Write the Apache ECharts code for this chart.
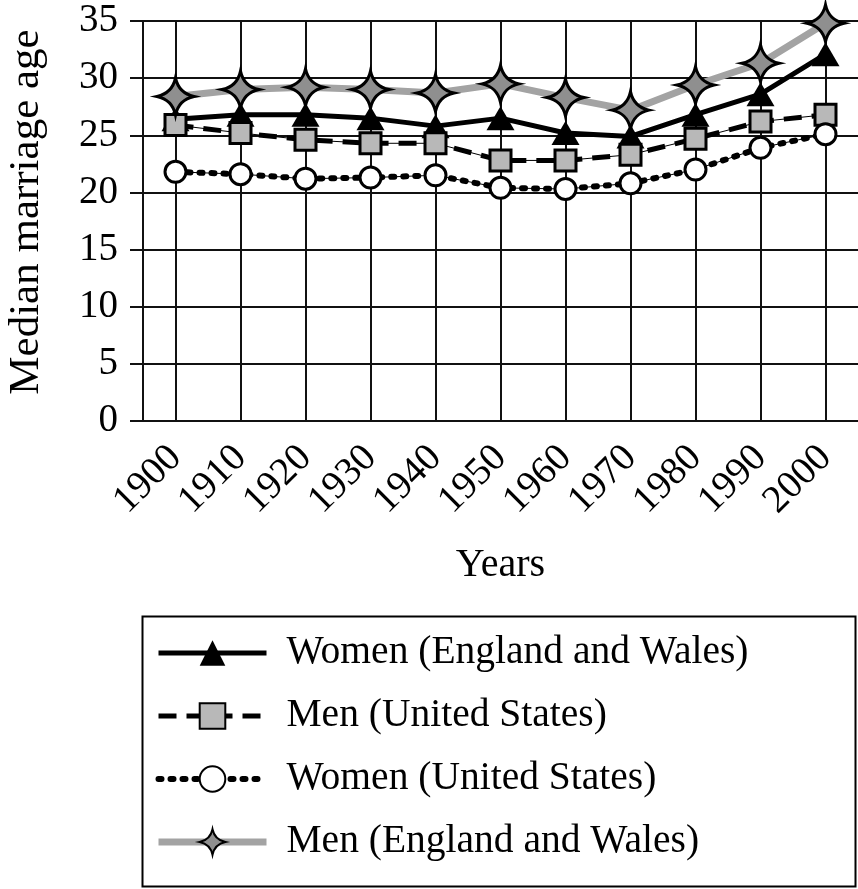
<!DOCTYPE html>
<html>
<head>
<meta charset="utf-8">
<script src="https://cdn.jsdelivr.net/npm/echarts@6/dist/echarts.min.js"></script>
<style>
html, body { margin: 0; padding: 0; background: #fff; }
#chart { width: 858px; height: 889px; }
</style>
</head>
<body>
<div id="chart"></div>
<script>
// data
const years = ['1900', '1910', '1920', '1930', '1940', '1950', '1960', '1970', '1980', '1990', '2000']
const womenEW = [26.4, 26.8, 26.8, 26.5, 25.8, 26.5, 25.2, 24.9, 26.8, 28.6, 32.1]
const menUS = [25.9, 25.2, 24.6, 24.3, 24.3, 22.8, 22.8, 23.3, 24.7, 26.2, 26.8]
const womenUS = [21.8, 21.6, 21.2, 21.3, 21.5, 20.4, 20.3, 20.8, 22.0, 23.9, 25.1]
const menEW = [28.4, 29.0, 29.2, 29.0, 28.7, 29.5, 28.3, 27.2, 29.4, 31.3, 34.8]
const yTicks = [0, 5, 10, 15, 20, 25, 30, 35]

const font = 'Liberation Serif'
// four pointed star with curved sides
const star = 'path://M0,-20 Q3.5,-3.5 20,0 Q3.5,3.5 0,20 Q-3.5,3.5 -20,0 Q-3.5,-3.5 0,-20 Z'

const myChart = echarts.init(document.getElementById('chart'))
myChart.setOption({
  animation: false,
  backgroundColor: '#fff',
  textStyle: { fontFamily: font, color: '#000' },
  grid: { left: 143, right: 0, top: 21, height: 400, outerBoundsMode: 'none' },
  legend: {
    orient: 'vertical',
    left: 155,
    top: 632,
    padding: 0,
    itemWidth: 108,
    itemHeight: 32,
    itemGap: 21,
    lineStyle: { width: 'inherit' },
    data: ['Women (England and Wales)', 'Men (United States)', 'Women (United States)', 'Men (England and Wales)'],
    textStyle: { fontFamily: font, fontSize: 39.5, color: '#000', lineHeight: 42, padding: [0, 0, 0, 15] },
  },
  graphic: [{
    type: 'rect',
    left: 140,
    top: 614,
    shape: { width: 713, height: 270 },
    style: { fill: 'none', stroke: '#000', lineWidth: 2 },
  }],
  xAxis: {
    type: 'category',
    data: years,
    boundaryGap: true,
    name: 'Years',
    nameLocation: 'middle',
    nameGap: 124,
    nameTextStyle: { fontFamily: font, fontSize: 40, color: '#000' },
    axisLine: { lineStyle: { color: '#111', width: 2 } },
    axisTick: { show: false },
    axisLabel: { rotate: 45, margin: 31, fontFamily: font, fontSize: 39, color: '#000', interval: 0 },
    splitLine: { show: true, alignWithLabel: true, lineStyle: { color: '#111', width: 2 } },
  },
  yAxis: {
    type: 'value',
    min: yTicks[0],
    max: yTicks[yTicks.length - 1],
    interval: 5,
    name: 'Median marriage age',
    nameLocation: 'middle',
    nameGap: 95,
    nameTextStyle: { fontFamily: font, fontSize: 43, color: '#000', padding: [0, 0, 0, 18] },
    axisLine: { show: true, lineStyle: { color: '#111', width: 2 } },
    axisTick: { show: true, inside: false, length: 13, lineStyle: { color: '#111', width: 2 } },
    axisLabel: { margin: 25, fontFamily: font, fontSize: 39, color: '#000' },
    splitLine: { show: true, lineStyle: { color: '#111', width: 2 } },
  },
  series: [
    {
      name: 'Women (England and Wales)',
      type: 'line',
      data: womenEW,
      symbol: 'triangle',
      symbolSize: [28, 24],
      itemStyle: { color: '#000' },
      lineStyle: { color: '#000', width: 5 },
      z: 2,
    },
    {
      // thin connector under the dashes
      type: 'line',
      data: menUS,
      symbol: 'none',
      silent: true,
      lineStyle: { color: '#000', width: 1 },
      z: 2,
    },
    {
      name: 'Men (United States)',
      type: 'line',
      data: menUS,
      symbol: 'rect',
      symbolSize: 21,
      itemStyle: { color: '#b8b8b8', borderColor: '#000', borderWidth: 3 },
      lineStyle: { color: '#000', width: 5, type: [18, 10] },
      z: 3,
    },
    {
      type: 'line',
      data: womenUS,
      symbol: 'none',
      silent: true,
      lineStyle: { color: '#000', width: 1 },
      z: 3,
    },
    {
      name: 'Women (United States)',
      type: 'line',
      data: womenUS,
      symbol: 'circle',
      symbolSize: 21,
      itemStyle: { color: '#fff', borderColor: '#000', borderWidth: 3 },
      lineStyle: { color: '#000', width: 6, type: [3, 9], cap: 'round' },
      z: 4,
    },
    {
      name: 'Men (England and Wales)',
      type: 'line',
      data: menEW,
      symbol: star,
      symbolSize: [37, 37],
      itemStyle: { color: '#8f8f8f', borderColor: '#000', borderWidth: 3 },
      lineStyle: { color: '#a3a3a3', width: 7 },
      z: 5,
    },
  ],
})
</script>
</body>
</html>
